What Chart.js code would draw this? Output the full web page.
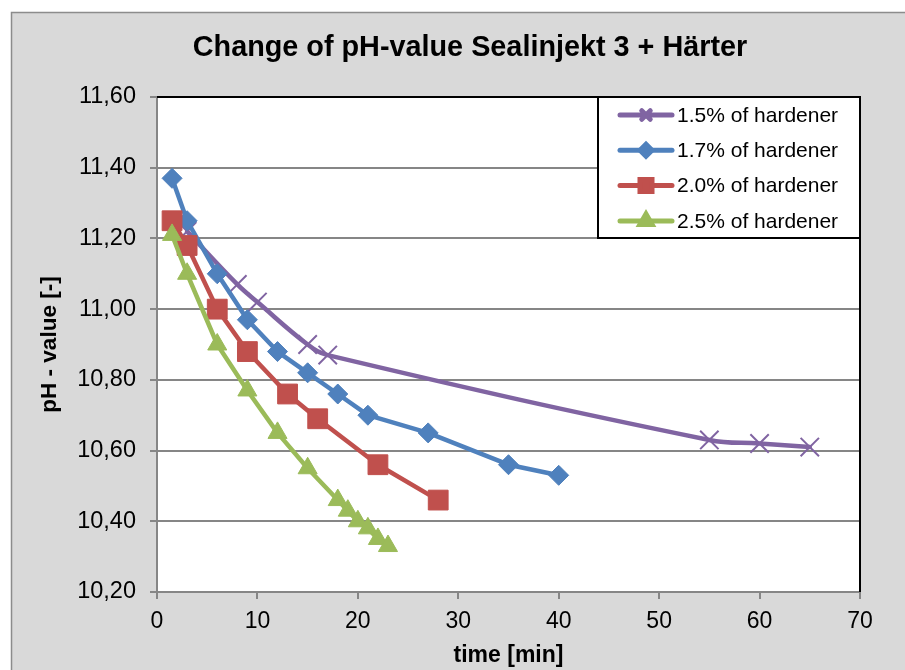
<!DOCTYPE html>
<html>
<head>
<meta charset="utf-8">
<title>Change of pH-value Sealinjekt 3 + Härter</title>
<script src="https://cdn.jsdelivr.net/npm/chart.js@4.4.1/dist/chart.umd.min.js"></script>
<style>
  html, body { margin: 0; padding: 0; background: #fff; }
  canvas { display: block; }
</style>
</head>
<body>
<canvas id="grafico" width="905" height="670"></canvas>
<script>
// Datos
const tituloGrafico = 'Change of pH-value Sealinjekt 3 + Härter';
const tituloX = 'time [min]';
const tituloY = 'pH - value [-]';

const nombresSeries = ['1.5% of hardener', '1.7% of hardener', '2.0% of hardener', '2.5% of hardener'];

const tiempo15 = [3, 8, 10, 15, 17, 55, 60, 65];
const ph15 = [11.22, 11.07, 11.02, 10.90, 10.87, 10.63, 10.62, 10.61];

const tiempo17 = [1.5, 3, 6, 9, 12, 15, 18, 21, 27, 35, 40];
const ph17 = [11.37, 11.25, 11.10, 10.97, 10.88, 10.82, 10.76, 10.70, 10.65, 10.56, 10.53];

const tiempo20 = [1.5, 3, 6, 9, 13, 16, 22, 28];
const ph20 = [11.25, 11.18, 11.00, 10.88, 10.76, 10.69, 10.56, 10.46];

const tiempo25 = [1.5, 3, 6, 9, 12, 15, 18, 19, 20, 21, 22, 23];
const ph25 = [11.21, 11.10, 10.90, 10.77, 10.65, 10.55, 10.46, 10.43, 10.40, 10.38, 10.35, 10.33];

const ticksX = [0, 10, 20, 30, 40, 50, 60, 70];
const ticksY = [10.2, 10.4, 10.6, 10.8, 11.0, 11.2, 11.4, 11.6];

const FUENTE = '"Liberation Sans", Arial, sans-serif';
const colores = ['#8064A2', '#4F81BD', '#C0504D', '#9BBB59'];
const estilos = ['crossRot', 'rectRot', 'rect', 'triangle'];
const radios = [13, 10, 14, 11];
const radiosLeyenda = [6, 6, 8.5, 7];

const puntos = (xs, ys) => xs.map((x, i) => ({ x: x, y: ys[i] }));

const series = [
    puntos(tiempo15, ph15),
    puntos(tiempo17, ph17),
    puntos(tiempo20, ph20),
    puntos(tiempo25, ph25)
];

Chart.defaults.font.family = FUENTE;
Chart.defaults.color = '#000';

// Fondo, marco, título y leyenda propia
const marcoPlugin = {
    id: 'marco',
    beforeDraw(chart) {
        const { ctx, chartArea: a, width, height } = chart;
        ctx.save();
        ctx.fillStyle = '#ffffff';
        ctx.fillRect(0, 0, width, height);
        ctx.fillStyle = '#d9d9d9';
        ctx.fillRect(11, 12, width, height);
        ctx.strokeStyle = '#8c8c8c';
        ctx.lineWidth = 1.5;
        ctx.strokeRect(11.5, 12.5, width + 10, height + 10);
        ctx.fillStyle = '#ffffff';
        ctx.fillRect(a.left, a.top, a.right - a.left, a.bottom - a.top);

        ctx.fillStyle = '#000';
        ctx.font = 'bold 28.8px ' + FUENTE;
        ctx.textAlign = 'center';
        ctx.textBaseline = 'middle';
        ctx.fillText(tituloGrafico, 470, 48);
        ctx.restore();
    },
    afterDatasetsDraw(chart) {
        const { ctx, chartArea: a } = chart;
        ctx.save();
        // borde negro superior y derecho del área de trazado
        ctx.strokeStyle = '#000';
        ctx.lineWidth = 2;
        ctx.beginPath();
        ctx.moveTo(a.left, a.top);
        ctx.lineTo(a.right, a.top);
        ctx.lineTo(a.right, a.bottom);
        ctx.stroke();

        // leyenda
        const ancho = 262, alto = 141;
        const x0 = a.right - ancho, y0 = a.top;
        ctx.fillStyle = '#fff';
        ctx.fillRect(x0, y0, ancho, alto);
        ctx.strokeRect(x0, y0, ancho, alto);

        ctx.font = '21px ' + FUENTE;
        ctx.textAlign = 'left';
        ctx.textBaseline = 'middle';
        nombresSeries.forEach((nombre, i) => {
            const y = y0 + 18 + i * 35.3;
            ctx.strokeStyle = colores[i];
            ctx.fillStyle = colores[i];
            ctx.lineWidth = 5;
            ctx.lineCap = 'round';
            ctx.beginPath();
            ctx.moveTo(x0 + 22, y);
            ctx.lineTo(x0 + 74, y);
            ctx.stroke();
            Chart.helpers.drawPoint(ctx, {
                pointStyle: estilos[i],
                radius: radiosLeyenda[i],
                rotation: 0,
                borderWidth: i === 0 ? 1.5 : 1
            }, x0 + 48, y);
            ctx.fillStyle = '#000';
            ctx.fillText(nombre, x0 + 79, y + 1);
        });
        ctx.restore();
    }
};

new Chart(document.getElementById('grafico').getContext('2d'), {
    type: 'scatter',
    data: {
        datasets: series.map((datos, i) => ({
            label: nombresSeries[i],
            data: datos,
            showLine: true,
            order: 4 - i,
            borderColor: colores[i],
            backgroundColor: colores[i],
            borderWidth: 4.5,
            borderCapStyle: 'round',
            borderJoinStyle: 'round',
            tension: i === 0 ? 0.4 : 0,
            pointStyle: estilos[i],
            pointRadius: radios[i],
            pointBorderWidth: i === 0 ? 2 : 1,
            pointBorderColor: colores[i],
            pointBackgroundColor: colores[i]
        }))
    },
    options: {
        responsive: false,
        animation: false,
        layout: { padding: { top: 97, right: 45, bottom: 0, left: 0 } },
        plugins: {
            legend: { display: false },
            title: { display: false },
            tooltip: { enabled: false }
        },
        scales: {
            x: {
                type: 'linear',
                min: ticksX[0],
                max: ticksX[ticksX.length - 1],
                afterBuildTicks: (s) => { s.ticks = ticksX.map(v => ({ value: v })); },
                ticks: { font: { size: 23 }, color: '#000', padding: 9 },
                grid: { drawOnChartArea: false, drawTicks: true, tickLength: 7, color: '#868686', lineWidth: 2 },
                border: { color: '#868686', width: 2 },
                title: {
                    display: true,
                    text: tituloX,
                    color: '#000',
                    font: { size: 23, weight: 'bold' },
                    padding: { top: 0, bottom: 1 }
                },
                afterFit: (s) => { s.height = 78; }
            },
            y: {
                min: ticksY[0],
                max: ticksY[ticksY.length - 1],
                afterBuildTicks: (s) => { s.ticks = ticksY.map(v => ({ value: v })); },
                ticks: {
                    font: { size: 23.5 },
                    color: '#000',
                    padding: 14,
                    callback: (v) => Number(v).toFixed(2).replace('.', ',')
                },
                grid: { drawTicks: true, tickLength: 7, color: '#868686', lineWidth: 2 },
                border: { color: '#868686', width: 2 },
                title: {
                    display: true,
                    text: tituloY,
                    color: '#000',
                    font: { size: 22.5, weight: 'bold' },
                    padding: { top: 36, bottom: 0 }
                },
                afterFit: (s) => { s.width = 157; }
            }
        }
    },
    plugins: [marcoPlugin]
});
</script>
</body>
</html>
